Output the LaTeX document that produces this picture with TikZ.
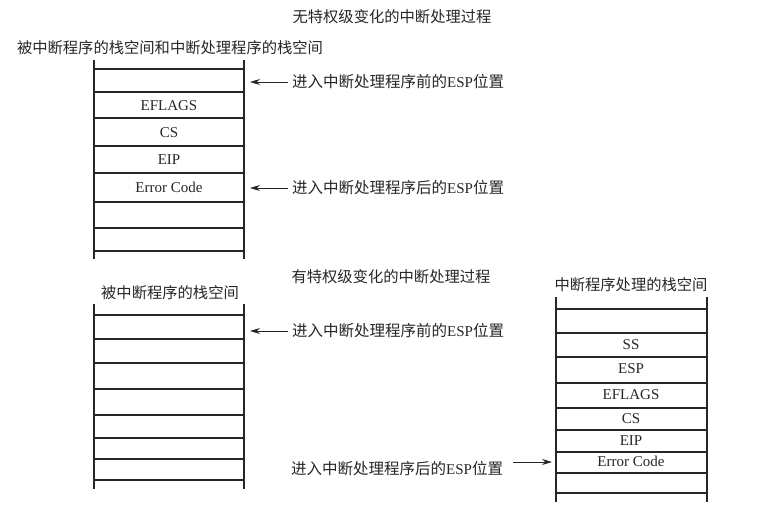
\documentclass[tikz,border=0pt]{standalone}
\usepackage{fontspec}
\setmainfont{Liberation Serif}
\newfontfamily\cjk{Noto Sans CJK SC}
\usetikzlibrary{arrows.meta}
\begin{document}
\begin{tikzpicture}[x=1pt,y=-1pt,
  stk/.style={line width=1.3pt,draw=black!85},
  lbl/.style={inner sep=0pt,font=\fontsize{15}{17}\selectfont,text=black!85},
  cjklbl/.style={inner sep=0pt,font=\fontsize{15.3}{17}\selectfont\cjk,text=black!85},
  ptr/.style={line width=0.9pt,draw=black!85,-{Stealth[length=10pt,width=6pt]}}]
\useasboundingbox (0,0) rectangle (765,517);
% ---------- top part ----------
\node[cjklbl] (title1) at (392,17) {无特权级变化的中断处理过程};
\node[cjklbl] (head1) at (170,48) {被中断程序的栈空间和中断处理程序的栈空间};
\draw[stk] (94,60) -- (94,259) (244,60) -- (244,259);
\foreach \yy in {69,92,118,146,173,202,228,251}
  \draw[stk] (94,\yy) -- (244,\yy);
\node[lbl] (a1) at (169,106) {EFLAGS};
\node[lbl] (a2) at (169,133) {CS};
\node[lbl] (a3) at (169,160) {EIP};
\node[lbl] (a4) at (169,187) {Error Code};
\node[lbl,anchor=west] (p1) at (292,82) {{\cjk\fontsize{15.5}{17}\selectfont 进入中断处理程序前的}ESP{\cjk\fontsize{15.5}{17}\selectfont 位置}};
\node[lbl,anchor=west] (p2) at (292,188) {{\cjk\fontsize{15.5}{17}\selectfont 进入中断处理程序后的}ESP{\cjk\fontsize{15.5}{17}\selectfont 位置}};
\coordinate (q1) at (250,82);
\coordinate (q2) at (250,188);
\draw[ptr] (p1.west) ++(-4,0) -- (q1);
\draw[ptr] (p2.west) ++(-4,0) -- (q2);
% ---------- bottom part ----------
\node[cjklbl] (title2) at (391,277) {有特权级变化的中断处理过程};
\node[cjklbl] (head2) at (170,293) {被中断程序的栈空间};
\draw[stk] (94,304) -- (94,489) (244,304) -- (244,489);
\foreach \yy in {315,339,363,389,415,438,459,480}
  \draw[stk] (94,\yy) -- (244,\yy);
\node[lbl,anchor=west] (p3) at (292,331) {{\cjk\fontsize{15.5}{17}\selectfont 进入中断处理程序前的}ESP{\cjk\fontsize{15.5}{17}\selectfont 位置}};
\coordinate (q3) at (250,331);
\draw[ptr] (p3.west) ++(-4,0) -- (q3);
% right stack
\node[cjklbl] (head3) at (631,285) {中断程序处理的栈空间};
\draw[stk] (556,297) -- (556,502) (707,297) -- (707,502);
\foreach \yy in {309,333,357,383,408,430,452,473,493}
  \draw[stk] (556,\yy) -- (707,\yy);
\node[lbl] (b1) at (631,345) {SS};
\node[lbl] (b2) at (631,369) {ESP};
\node[lbl] (b3) at (631,395) {EFLAGS};
\node[lbl] (b4) at (631,419) {CS};
\node[lbl] (b5) at (631,441) {EIP};
\node[lbl] (b6) at (631,461) {Error Code};
\node[lbl,anchor=west] (p4) at (291,469) {{\cjk\fontsize{15.5}{17}\selectfont 进入中断处理程序后的}ESP{\cjk\fontsize{15.5}{17}\selectfont 位置}};
\coordinate (q4) at (552,462);
\coordinate (s4) at (513,462);
\draw[ptr] (s4) -- (q4);
\end{tikzpicture}
\end{document}
